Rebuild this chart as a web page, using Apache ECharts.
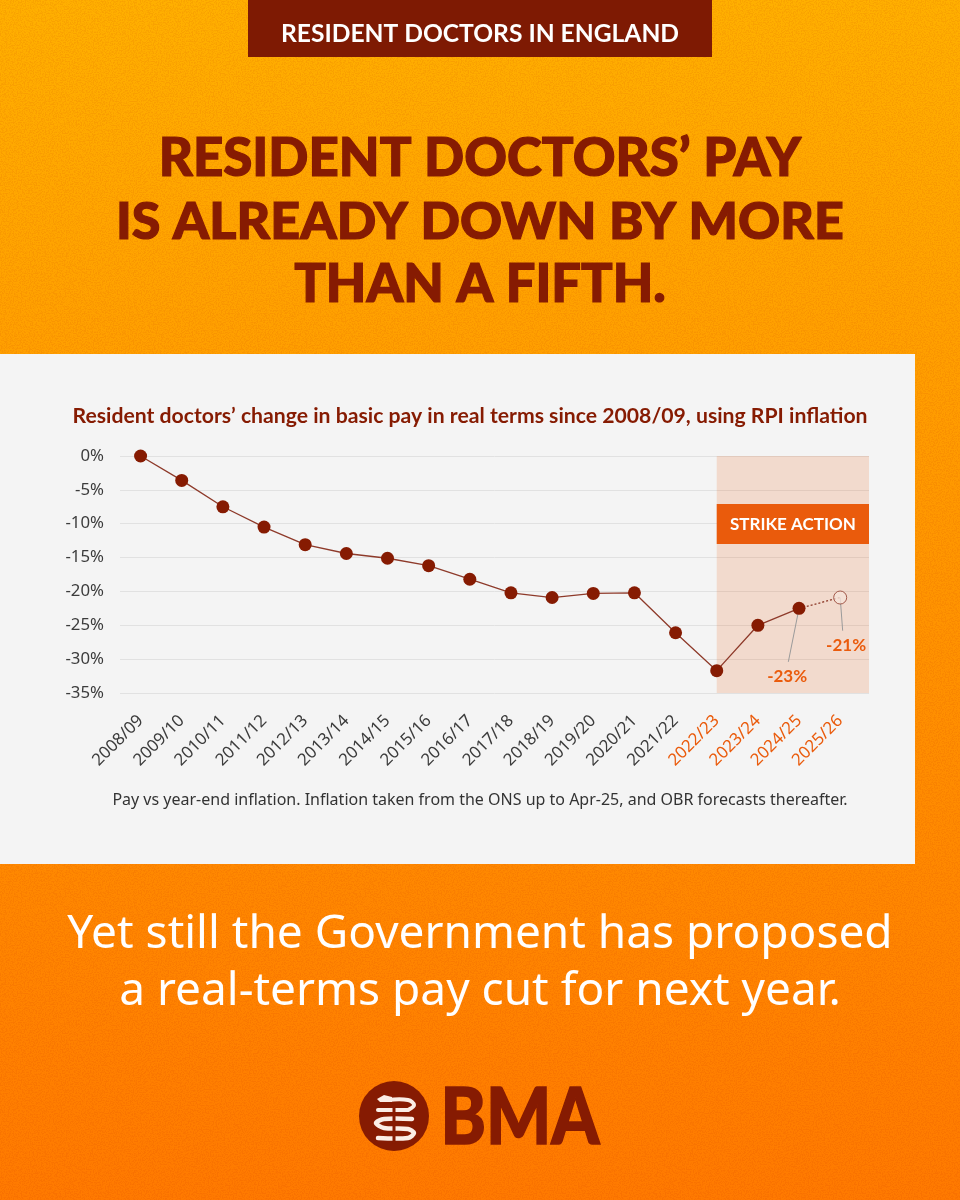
<!DOCTYPE html>
<html>
<head>
<meta charset="utf-8">
<title>Resident doctors' pay</title>
<style>
  html, body { margin: 0; padding: 0; }
  #poster { position: relative; width: 960px; height: 1200px; overflow: hidden;
    background: linear-gradient(180deg, #ffb000 0%, #ff9f00 30%, #ff8a00 70%, #ff7a00 100%); }
  #noise { position: absolute; inset: 0; opacity: .2; mix-blend-mode: multiply;
    background-image: url("data:image/svg+xml;utf8,<svg xmlns='http://www.w3.org/2000/svg' width='300' height='300'><filter id='n'><feTurbulence type='fractalNoise' baseFrequency='.75' numOctaves='3' stitchTiles='stitch'/><feColorMatrix values='0 0 0 0 .75 0 0 0 0 .35 0 0 0 0 0 5 0 0 0 -2.2'/></filter><rect width='300' height='300' filter='url(%23n)'/></svg>"); }
  #panel { position: absolute; left: 0; top: 354px; width: 915px; height: 510px; background: #f4f4f4; }
  #chart { position: absolute; left: 0; top: 0; width: 960px; height: 1200px; }
</style>
</head>
<body>
<div id="poster">
  <div id="noise"></div>
  <div id="panel"></div>
  <div id="chart"></div>
</div>
<script src="https://cdn.jsdelivr.net/npm/echarts@6/dist/echarts.min.js"></script>
<script>
const years = ["2008/09", "2009/10", "2010/11", "2011/12", "2012/13", "2013/14", "2014/15", "2015/16", "2016/17",
  "2017/18", "2018/19", "2019/20", "2020/21", "2021/22", "2022/23", "2023/24", "2024/25", "2025/26"];
const payChange = [0, -3.6, -7.5, -10.5, -13.1, -14.4, -15.1, -16.2, -18.2,
  -20.2, -20.9, -20.3, -20.2, -26.1, -31.7, -25, -22.5, -20.9];
const yTicks = [0, -5, -10, -15, -20, -25, -30, -35];
const strikeFrom = 14;
const strikeLabel = "STRIKE ACTION";
const calloutLabels = ["-23%", "-21%"];
const headline = ["RESIDENT DOCTORS\u2019 PAY", "IS ALREADY DOWN BY MORE", "THAN A FIFTH."];
const closing = ["Yet still the Government has proposed", "a real-terms pay cut for next year."];

const dark = "#861b02";
const orange = "#ea5b0c";
const cream = "#fbeee6";
const sans = "Lato, 'Noto Sans', sans-serif";
const body = "'Noto Sans', 'Open Sans', sans-serif";

const last = years.length - 1;
const solid = payChange.slice(0, last).map((v, i) => [i, v]);
const dotted = [[last - 1, payChange[last - 1]], [last, payChange[last]]];

function text(x, y, str, size, weight, color, family, heavy) {
  const style = { text: str, fontSize: size, fontWeight: weight, fill: color,
    fontFamily: family || sans, align: "center", verticalAlign: "middle" };
  if (heavy) {
    style.stroke = color;
    style.lineWidth = heavy;
  }
  return { type: "text", x: x, y: y, style: style };
}

// logo strokes, snake and staff
function logoLine(points, color, width, smooth) {
  return { type: "polyline", shape: { points: points, smooth: smooth || 0 },
    style: { stroke: color, lineWidth: width, fill: null, lineCap: "round" } };
}

const chart = echarts.init(document.querySelector("#chart"), null, { renderer: "canvas" });

chart.setOption({
  animation: false,
  grid: { left: 120, top: 456, width: 749, height: 237 },
  xAxis: {
    type: "value", min: -0.5, max: 17.7, splitLine: { show: false },
    axisLine: { show: false }, axisTick: { show: false },
    axisLabel: {
      customValues: years.map((y, i) => i), rotate: 45, margin: 25, fontSize: 16.8, fontFamily: body,
      formatter: (v) => years[v],
      color: (v) => (Number(v) >= strikeFrom ? orange : "#3c3c3c")
    }
  },
  yAxis: {
    type: "value", min: -35, max: 0, interval: 5,
    axisLine: { show: false }, axisTick: { show: false },
    splitLine: { lineStyle: { color: "#e1e1e1", width: 1 } },
    axisLabel: { margin: 16, fontSize: 16.8, fontFamily: body, color: "#3c3c3c", formatter: "{value}%" }
  },
  series: [
    {
      type: "line", data: solid, z: 5, symbol: "circle", symbolSize: 13,
      lineStyle: { color: "#8e3a2a", width: 1.3 }, itemStyle: { color: dark },
      markArea: {
        silent: true, z: 1,
        data: [
          [{ xAxis: strikeFrom, yAxis: yTicks[0], itemStyle: { color: "rgba(234,91,12,0.17)" } },
           { xAxis: 17.7, yAxis: yTicks[7] }],
          [{ xAxis: strikeFrom, yAxis: -7.1, itemStyle: { color: orange },
             label: { show: true, position: "inside", formatter: strikeLabel, color: "#fff",
               fontSize: 17, fontWeight: 700, fontFamily: sans } },
           { xAxis: 17.7, yAxis: -13 }]
        ]
      }
    },
    {
      type: "line", data: dotted, z: 4, symbol: "none",
      lineStyle: { color: "#8e3a2a", width: 1.3, type: [2, 2] },
      markLine: {
        silent: true, symbol: "none",
        lineStyle: { color: "#9a9a9a", width: 1, type: "solid" },
        label: { show: true, position: "end", distance: 6, color: orange, fontSize: 17, fontWeight: 700, fontFamily: sans },
        data: [
          [{ coord: [16, payChange[16]] }, { coord: [15.74, -30.4], label: { formatter: calloutLabels[0] } }],
          [{ coord: [17, payChange[17]] }, { coord: [17.06, -25.8], label: { formatter: calloutLabels[1], offset: [3, 0] } }]
        ]
      }
    },
    {
      type: "scatter", data: [dotted[1]], z: 6, symbol: "circle", symbolSize: 13,
      itemStyle: { color: "#f6e2d8", borderColor: "#8e3a2a", borderWidth: 1 }
    }
  ],
  graphic: { elements: [
    { type: "rect", shape: { x: 248, y: 0, width: 464, height: 57 }, style: { fill: "#7e1a03" } },
    text(480, 34, "RESIDENT DOCTORS IN ENGLAND", 24.6, 700, "#fff"),
    text(480, 159, headline[0], 52.8, 900, dark, sans, 1.2),
    text(480, 222, headline[1], 52, 900, dark, sans, 1.2),
    text(480, 285, headline[2], 52.5, 900, dark, sans, 1.2),
    text(470, 416, "Resident doctors\u2019 change in basic pay in real terms since 2008/09, using RPI inflation", 21.2, 700, dark),
    text(480, 800, "Pay vs year-end inflation. Inflation taken from the ONS up to Apr-25, and OBR forecasts thereafter.", 16, 400, "#333", body),
    text(480, 935, closing[0], 46, 400, "#fff", body),
    text(480, 992, closing[1], 46, 400, "#fff", body),
    { type: "circle", shape: { cx: 394, cy: 1116, r: 35 }, style: { fill: dark } },
    { type: "polygon", shape: { points: [[377, 1099], [384, 1095], [392, 1097], [392, 1102], [380, 1102]] }, style: { fill: cream } },
    logoLine([[388, 1100], [408, 1100], [414, 1105], [408, 1110]], cream, 4, 0.4),
    logoLine([[378, 1110], [408, 1110]], cream, 4),
    logoLine([[412, 1119], [384, 1119], [376, 1123], [384, 1128], [408, 1129], [414, 1133], [408, 1138], [378, 1138]], cream, 4.5, 0.3),
    logoLine([[394, 1104], [394, 1142]], dark, 3),
    { type: "text", x: 520, y: 1119, scaleX: 0.88,
      style: { text: "BMA", fontSize: 78, fontWeight: 900, fill: dark, stroke: dark, lineWidth: 1.5,
        fontFamily: sans, align: "center", verticalAlign: "middle" } }
  ] }
});
</script>
</body>
</html>
